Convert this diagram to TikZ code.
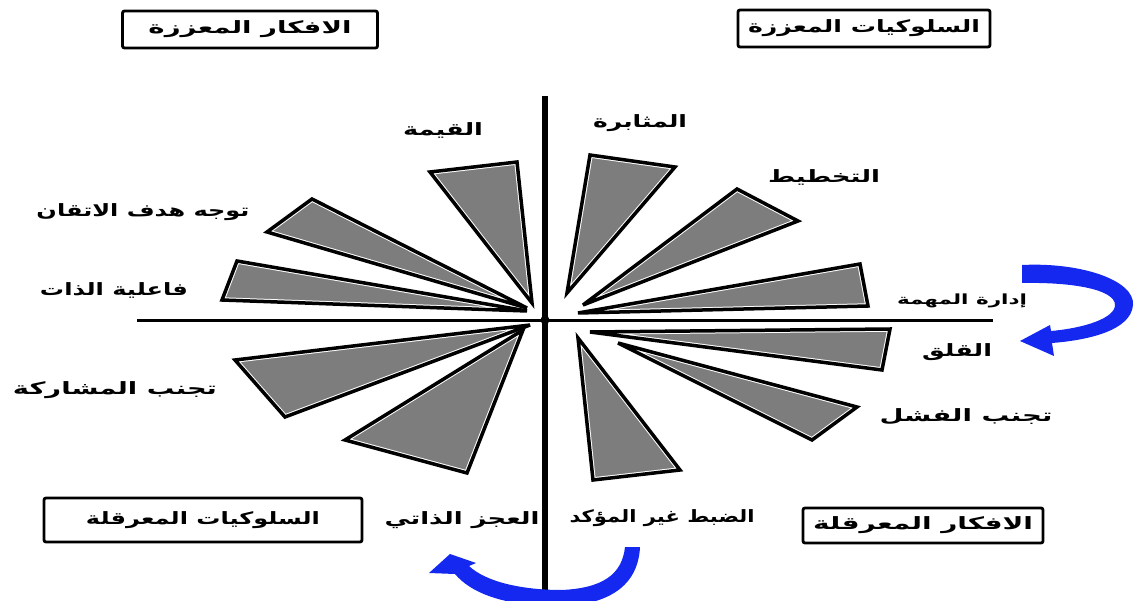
\documentclass[tikz,border=0pt]{standalone}
\usepackage{fontspec}
\usepackage{graphicx}
\TeXXeTstate=1
\newfontfamily\arabicfont[Script=Arabic]{DejaVu Sans}
\definecolor{arrowblue}{RGB}{20,40,240}
\definecolor{wedgegray}{RGB}{125,125,125}
\tikzset{
  lbl/.style={font=\arabicfont\bfseries\fontsize{17}{19}\selectfont, inner sep=0pt},
  smalllbl/.style={font=\arabicfont\bfseries\fontsize{14}{16}\selectfont, inner sep=0pt},
  boxlbl/.style={draw, line width=2.8pt, rounded corners=2pt,
    font=\arabicfont\bfseries\fontsize{17}{19}\selectfont, inner sep=0pt},
  axisline/.style={line width=#1},
  bluearrow/.style={fill=arrowblue, draw=none}
}
\newcommand\spoke[3]{%
  \fill[wedgegray] #1--#2--#3--cycle;
  \begin{scope}
    \clip #1--#2--#3--cycle;
    \draw[white,line width=5.5pt] #1--#2--#3--cycle;
  \end{scope}
  \draw[line width=3.5pt,miter limit=4] #1--#2--#3--cycle;}
\newcommand\fitw[2]{\resizebox{#1pt}{\height}{#2}}
\begin{document}
\begin{tikzpicture}[x=1pt,y=-1pt]
\useasboundingbox (0,0) rectangle (1134,601);
% axes
\coordinate (vtop) at (545,96);
\coordinate (vbot) at (545,601);
\coordinate (hleft) at (137,320);
\coordinate (hright) at (993,320);
\draw[axisline=5.5pt] (vtop) -- (vbot);
\draw[axisline=3pt] (hleft) -- (hright);
% wedges upper left
\spoke{(430,172)}{(517,162)}{(532,303)}
\spoke{(267,232)}{(312,199)}{(527,308)}
\spoke{(222,300)}{(237,261)}{(527,311)}
% wedges upper right
\spoke{(590,155)}{(675,167)}{(567,293)}
\spoke{(737,189)}{(798,221)}{(583,305)}
\spoke{(860,264)}{(868,306)}{(578,313)}
% wedges lower right
\spoke{(590,332)}{(890,329)}{(882,370)}
\spoke{(618,343)}{(857,407)}{(812,440)}
\spoke{(578,338)}{(680,470)}{(593,480)}
% wedges lower left
\spoke{(235,360)}{(285,417)}{(530,325)}
\spoke{(345,440)}{(467,473)}{(523,330)}
\fill (545,320) circle (4.5pt);
% boxes
\node[boxlbl, minimum width=255pt, minimum height=37pt] (tl) at (250,29.5) {\fitw{203}{\beginR الافكار المعززة\endR}};
\node[boxlbl, minimum width=252pt, minimum height=37pt] (tr) at (864,28.5) {\fitw{232}{\beginR السلوكيات المعززة\endR}};
\node[boxlbl, minimum width=318pt, minimum height=44pt] (bl) at (203,520) {\fitw{234}{\beginR السلوكيات المعرقلة\endR}};
\node[boxlbl, minimum width=240pt, minimum height=35pt] (br) at (923,525.5) {\fitw{220}{\beginR الافكار المعرقلة\endR}};
% labels
\node[lbl] (qima) at (443,130) {\fitw{80}{\beginR القيمة\endR}};
\node[lbl] (muthabara) at (640,123) {\fitw{94}{\beginR المثابرة\endR}};
\node[lbl] (takhtit) at (824,177) {\fitw{112}{\beginR التخطيط\endR}};
\node[lbl] (tawajjuh) at (143,212) {\fitw{213}{\beginR توجه هدف الاتقان\endR}};
\node[lbl] (faaliya) at (114,290) {\fitw{148}{\beginR فاعلية الذات\endR}};
\node[smalllbl] (idara) at (962,301) {\fitw{130}{\beginR إدارة المهمة\endR}};
\node[lbl] (qalaq) at (957,352) {\fitw{70}{\beginR القلق\endR}};
\node[lbl] (musharaka) at (115,390) {\fitw{204}{\beginR تجنب المشاركة\endR}};
\node[lbl] (fashal) at (966,417) {\fitw{173}{\beginR تجنب الفشل\endR}};
\node[lbl] (ajz) at (462,520) {\fitw{155}{\beginR العجز الذاتي\endR}};
\node[lbl] (dabt) at (662,518) {\fitw{185}{\beginR الضبط غير المؤكد\endR}};
% blue arrows
\begin{scope}
\clip (0,0) rectangle (1134,601);
\fill[bluearrow] (1022,265) .. controls (1080,262) and (1135,280) .. (1133,305)
  .. controls (1131,330) and (1090,340) .. (1052,343)
  -- (1054,356) -- (1020,341) -- (1050,325) -- (1051,331)
  .. controls (1085,328) and (1115,318) .. (1115,305)
  .. controls (1115,290) and (1075,282) .. (1022,283) -- cycle;
\fill[bluearrow] (640,547) .. controls (638,590) and (602,606) .. (557,606)
  .. controls (502,606) and (470,592) .. (455,574)
  -- (429,573) -- (450,554) -- (476,563) -- (469,566)
  .. controls (486,582) and (522,590) .. (562,590)
  .. controls (602,588) and (622,575) .. (625,547) -- cycle;
\end{scope}
\end{tikzpicture}
\end{document}
